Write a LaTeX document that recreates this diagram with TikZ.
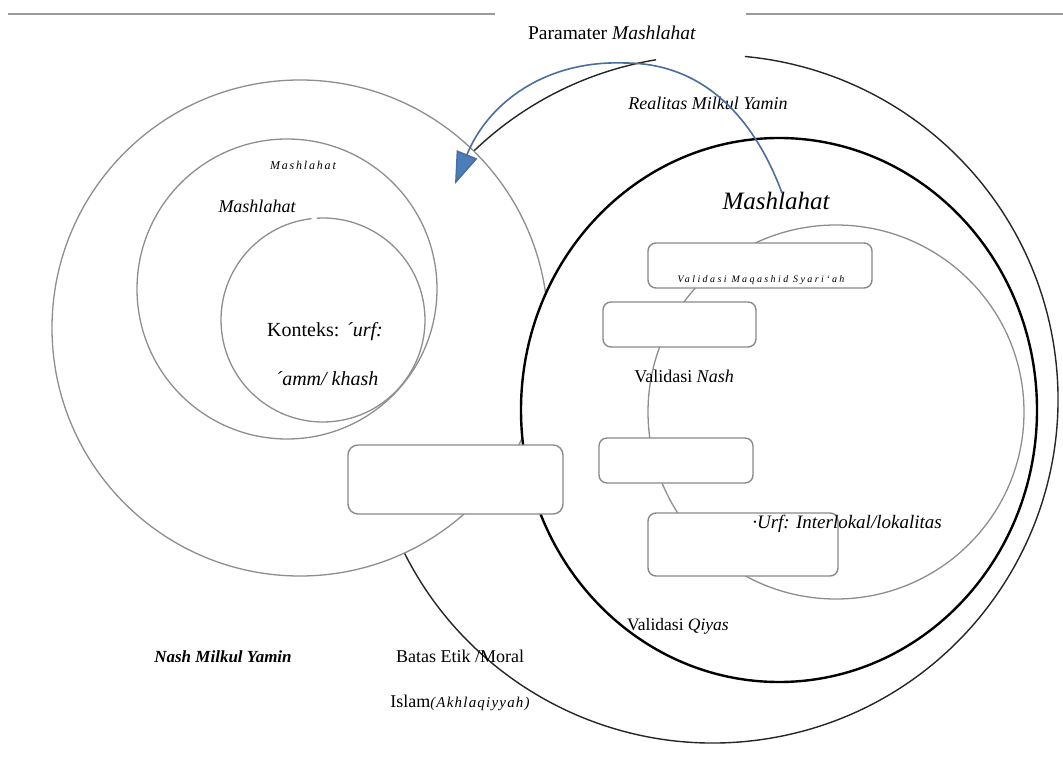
\documentclass[tikz,border=0pt]{standalone}
\usepackage{fontspec}
\setmainfont{Liberation Serif}
\usetikzlibrary{arrows.meta}
\definecolor{circgray}{HTML}{8E8E8E}
\definecolor{boxgray}{HTML}{8A8A8A}
\definecolor{toplinec}{HTML}{9A9A9A}
\definecolor{arrline}{HTML}{4A6E9E}
\definecolor{arrfill}{HTML}{4A7EBB}
\newcommand{\fsz}[1]{\fontsize{#1}{#1}\selectfont}
\begin{document}
\begin{tikzpicture}[x=1pt,y=-1pt,
  lbl/.style={inner sep=0pt, anchor=base, font=\fsz{18}},
  rbox/.style={draw=boxgray, line width=1.4pt, fill=white, rounded corners=8pt, inner sep=0pt},
  graycirc/.style={draw=circgray, line width=1.3pt},
  outerc/.style={draw=black!85, line width=1.4pt},
  blackc/.style={draw=black, line width=2.4pt},
  topline/.style={draw=toplinec, line width=2.5pt},
  arrowc/.style={draw=arrline, line width=1.6pt, -{Triangle[length=32pt,width=22pt,fill=arrfill]}}
]
\useasboundingbox (0,0) rectangle (1063,770);
\fill[white] (0,0) rectangle (1063,770);

% top rule
\coordinate (tl1) at (8,14); \coordinate (tl2) at (495,14);
\coordinate (tr1) at (746,14); \coordinate (tr2) at (1063,14);
\draw[topline] (tl1) -- (tl2);
\draw[topline] (tr1) -- (tr2);

% big outer circle (Realitas Milkul Yamin)
\coordinate (cOut) at (713,399);
\draw[outerc] (cOut) ++(99.5:345pt and 344pt) arc[x radius=345pt, y radius=344pt, start angle=99.5, end angle=444.7];

% left circles
\draw[graycirc, fill=white] (300,328) circle[radius=248pt];
\draw[graycirc] (287,289) circle[radius=150pt];
\coordinate (cIn) at (323,320);
\draw[graycirc] (cIn) ++(96.5:102pt) arc[radius=102pt, start angle=96.5, end angle=453.5];

% black Mashlahat circle
\draw[blackc, fill=white] (779,410) ellipse[x radius=258pt, y radius=272pt];

% urf ellipse
\draw[graycirc] (836,412) ellipse[x radius=188pt, y radius=187pt];

% boxes
\node[rbox, minimum width=224pt, minimum height=45pt] (boxA) at (760,265.5) {};
\node[rbox, minimum width=153pt, minimum height=45pt] (boxB) at (679.5,324.5) {};
\node[rbox, minimum width=154pt, minimum height=45pt] (boxC) at (676,460.5) {};
\node[rbox, minimum width=190pt, minimum height=63pt] (boxD) at (743,544.5) {};
\node[rbox, minimum width=215pt, minimum height=69pt, rounded corners=10pt] (boxE) at (455.5,479.5) {};

% texts
\node[lbl, font=\fsz{19.5}] (tParam) at (612,40) {Paramater \textit{Mashlahat}};
\node[lbl, font=\fsz{18}\itshape] (tReal) at (708,110) {Realitas Milkul Yamin};
\node[lbl, font=\fsz{25}\itshape] (tMasR) at (776,210) {Mashlahat};
\node[lbl, font=\fsz{10}\itshape\addfontfeature{LetterSpace=24}] (tMaq) at (761,283) {Validasi Maqashid Syari`ah};
\node[lbl] (tNash) at (684,382) {Validasi \textit{Nash}};
\node[lbl, font=\fsz{19}\itshape] (tUrf) at (847,528) {·Urf: Interlokal/lokalitas};
\node[lbl, font=\fsz{17.5}] (tQiyas) at (678,630) {Validasi \textit{Qiyas}};
\node[lbl] (tBatas) at (460,662) {Batas Etik /Moral};
\node[lbl] (tIslam) at (460,707) {Islam{\fsz{15}\itshape\addfontfeature{LetterSpace=8}(Akhlaqiyyah)}};
\node[lbl, font=\fsz{17}\bfseries\itshape] (tNashMY) at (223,662) {Nash Milkul Yamin};
\node[lbl, font=\fsz{20}] (tKont) at (325,336) {Konteks: \textit{´urf:}};
\node[lbl, font=\fsz{20}\itshape] (tAmm) at (327,385) {´amm/ khash};
\node[lbl, font=\fsz{18}\itshape] (tMas2) at (257,213) {Mashlahat};
\node[lbl, font=\fsz{12}\itshape\addfontfeature{LetterSpace=15}] (tMas1) at (303,170) {Mashlahat};

% blue arrow
\coordinate (arrS) at (782,193);
\coordinate (arrE) at (455,184);
\draw[arrowc] (arrS) .. controls (755,120) and (705,63) .. (625,63) .. controls (545,60) and (488,103) .. (arrE);
\end{tikzpicture}
\end{document}
